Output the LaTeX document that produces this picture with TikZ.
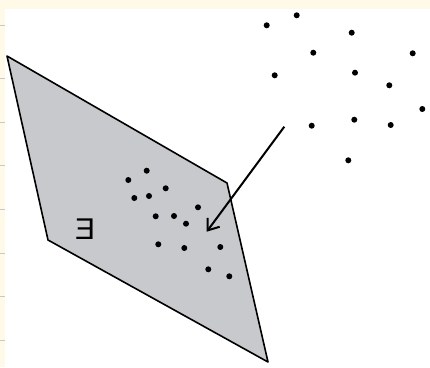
\documentclass[tikz,border=0pt]{standalone}
\usepackage{fontspec}
\setmainfont{Liberation Sans}
\usetikzlibrary{arrows.meta}
\definecolor{cream}{RGB}{255,249,232}
\definecolor{planegray}{RGB}{200,201,204}
\definecolor{rule}{RGB}{200,200,200}
\begin{document}
\begin{tikzpicture}[x=1pt,y=-1pt,
  dot/.style={circle,fill=black,inner sep=0pt,minimum size=6pt},
  plane/.style={fill=planegray,draw=black,line width=1.6pt,line join=round},
  proj/.style={draw=black,line width=2pt,-{Straight Barb[length=10pt,width=15pt,line width=2pt]}}]
\useasboundingbox (0,0) rectangle (430,367);
\fill[cream] (0,0) rectangle (430,9);
\fill[cream] (0,0) rectangle (5,367);
\foreach \yy in {25,78,122,165,209,253,296,340} \draw[rule,line width=0.5pt] (0,\yy) -- (5,\yy);
% plane
\coordinate (p1) at (7,56);
\coordinate (p2) at (227,183);
\coordinate (p3) at (268,362);
\coordinate (p4) at (48,240);
\path[plane] (p1) -- (p2) -- (p3) -- (p4) -- cycle;
\node[font=\fontsize{30}{30}\selectfont,xscale=-1,transform shape,inner sep=0pt] (E) at (85,229) {E};
% cloud points
\foreach \n/\px/\py in {a1/266.7/25.3,a2/296.7/15.3,a3/351.7/32.7,a4/313.3/52.7,a5/412.7/53.3,a6/274.7/75.3,a7/355/72.7,a8/389.3/85.3,a9/422.3/109,a10/311.7/125.7,a11/354.3/119.7,a12/390.7/125,a13/348.3/160.3}
  \node[dot] (\n) at (\px,\py) {};
% projected points
\foreach \n/\px/\py in {b1/128.3/180,b2/146.7/170.7,b3/165.7/188.3,b4/134.3/198,b5/149/196,b6/198/207.3,b7/155.7/216.3,b8/174/216,b9/186/223.7,b10/158.3/244.3,b11/184.3/248,b12/220.3/247,b13/208.3/269.3,b14/229.3/276.3}
  \node[dot] (\n) at (\px,\py) {};
% arrow
\coordinate (s) at (284.3,126.7);
\coordinate (t) at (206.7,231.7);
\draw[proj] (s) -- (t);
\end{tikzpicture}
\end{document}
